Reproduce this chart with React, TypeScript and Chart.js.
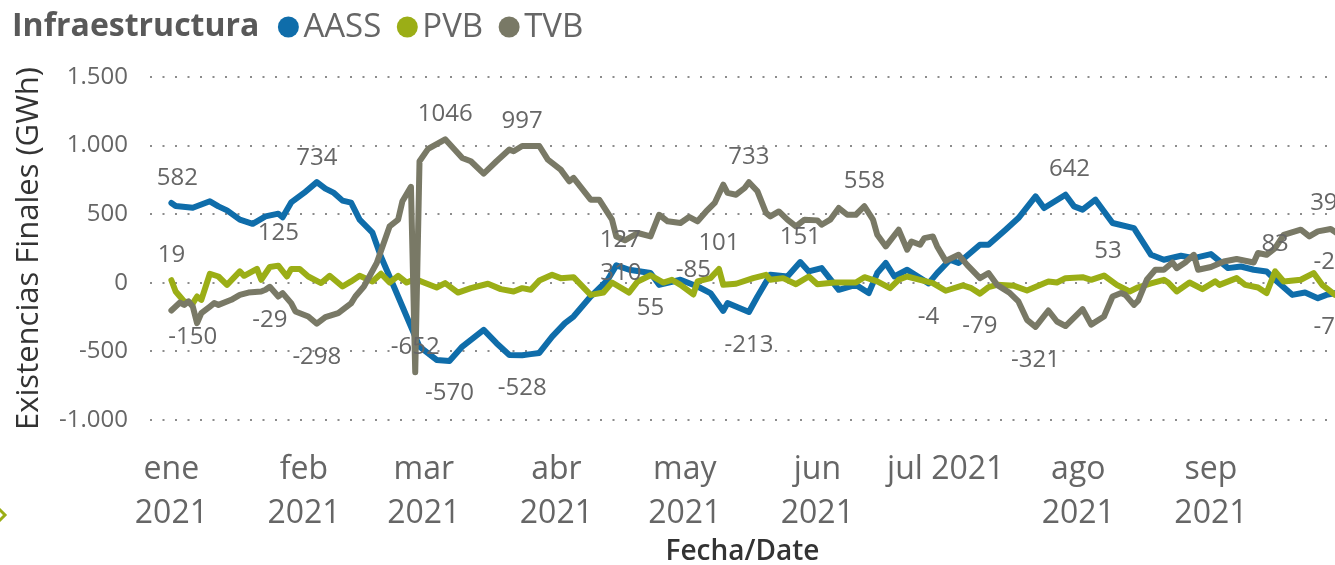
import React, { useEffect, useRef } from 'react';
import { Chart, registerables } from 'chart.js';

Chart.register(...registerables);

const chartTitle = 'Infraestructura';
const seriesNames = ['AASS', 'PVB', 'TVB'];
const seriesColors = ['#0F6DAA', '#9BAE16', '#797966'];

// [day index from 1 Jan 2021, GWh]
const aassSeries: [number, number][] = [
  [0, 582], [1, 560], [5, 547], [9, 594], [11, 557], [13, 528], [16, 460], [19, 430], [22, 484], [25, 504],
  [26, 477], [28, 586], [31, 655], [34, 734], [36, 686], [38, 655], [40, 599], [42, 584], [44, 460], [47, 365],
  [49, 190], [52, -27], [54, -173], [56, -319], [58, -465], [62, -562], [65, -570], [68, -465], [73, -343], [76, -440],
  [79, -526], [82, -528], [84, -520], [86, -511], [89, -392], [92, -294], [94, -246], [98, -100], [102, 22], [104, 127],
  [107, 95], [112, 71], [114, -15], [119, 22], [123, -27], [126, -75], [129, -205], [130, -148], [135, -213], [137, -100],
  [140, 58], [144, 46], [147, 151], [149, 83], [152, 107], [156, -51], [160, -15], [163, -75], [165, 71], [167, 144],
  [169, 46], [172, 95], [177, -4], [179, 71], [182, 168], [184, 144], [189, 277], [191, 277], [195, 387], [198, 472],
  [202, 630], [204, 545], [209, 642], [211, 557], [213, 533], [216, 606], [220, 436], [225, 399], [229, 204], [232, 168],
  [236, 197], [239, 180], [243, 209], [247, 107], [250, 119], [253, 95], [256, 83], [258, 22], [262, -88], [265, -71],
  [268, -112], [270, -88], [272, -75],
];

const pvbSeries: [number, number][] = [
  [0, 19], [1, -63], [3, -136], [5, -150], [6, -100], [7, -124], [9, 66], [11, 46], [13, -15], [16, 83],
  [17, 51], [20, 102], [21, 22], [23, 115], [25, 125], [27, 46], [28, 100], [30, 100], [32, 46], [35, -2],
  [37, 51], [40, -27], [42, 10], [44, 51], [47, 10], [49, 66], [51, 2], [53, 51], [55, 2], [57, 27],
  [59, 2], [62, -34], [64, -2], [67, -71], [70, -39], [74, -7], [77, -46], [80, -63], [82, -39], [84, -51],
  [86, 16], [89, 58], [91, 34], [94, 41], [98, -88], [101, -71], [103, 2], [107, -71], [109, 10], [112, 55],
  [115, 2], [117, 22], [119, -15], [122, -85], [123, 10], [126, 34], [128, 101], [129, -15], [132, -7], [136, 34],
  [139, 58], [140, 22], [143, 34], [146, -10], [149, 46], [151, -10], [155, 2], [160, 2], [162, 41], [165, 10],
  [168, -39], [170, 22], [172, 46], [175, 22], [178, -2], [181, -58], [185, -19], [187, -39], [189, -79], [191, -31],
  [193, -15], [197, -22], [200, -56], [205, 10], [207, 2], [209, 34], [213, 41], [215, 22], [218, 53], [221, -15],
  [224, -63], [226, -33], [229, -5], [232, 22], [233, 2], [235, -63], [238, 2], [241, -46], [244, 10], [245, -15],
  [249, 34], [251, -15], [254, -34], [256, -75], [258, 83], [260, 10], [264, 22], [267, 71], [269, -15], [272, -88],
  [273, -95],
];

const tvbSeries: [number, number][] = [
  [0, -202], [2, -144], [3, -161], [4, -136], [5, -173], [6, -294], [7, -221], [9, -173], [10, -148], [11, -161],
  [14, -124], [16, -88], [18, -71], [21, -63], [22, -51], [23, -29], [25, -100], [26, -75], [28, -148], [29, -209],
  [32, -246], [34, -298], [36, -250], [39, -221], [41, -173], [42, -150], [43, -100], [45, -27], [48, 144], [51, 411],
  [53, 460], [54, 594], [56, 699], [57, -652], [58, 886], [60, 976], [64, 1046], [68, 910], [70, 886], [73, 796],
  [76, 886], [79, 971], [80, 959], [82, 997], [86, 997], [88, 898], [91, 825], [93, 740], [94, 764], [98, 606],
  [100, 606], [103, 460], [104, 338], [106, 310], [109, 363], [112, 338], [114, 496], [116, 448], [119, 436], [121, 480],
  [123, 448], [125, 520], [127, 582], [129, 715], [130, 655], [132, 642], [134, 691], [135, 733], [137, 667], [139, 509],
  [140, 484], [142, 520], [144, 460], [146, 411], [148, 460], [151, 455], [152, 423], [154, 460], [156, 545], [158, 496],
  [160, 496], [162, 558], [164, 460], [165, 350], [167, 265], [170, 387], [172, 241], [173, 301], [175, 277], [176, 326],
  [178, 338], [179, 265], [181, 160], [184, 204], [186, 131], [189, 34], [191, 71], [193, -15], [196, -75], [198, -136],
  [200, -270], [202, -321], [205, -202], [207, -282], [209, -315], [213, -192], [215, -305], [218, -246], [220, -100], [222, -75],
  [223, -88], [225, -161], [226, -130], [228, 22], [230, 95], [232, 95], [234, 148], [235, 107], [237, 148], [239, 204],
  [240, 95], [243, 115], [246, 155], [249, 173], [253, 148], [254, 217], [256, 204], [258, 253], [260, 350], [264, 387],
  [266, 338], [268, 375], [271, 392], [273, 350],
];

const allSeries = [aassSeries, pvbSeries, tvbSeries];

const monthDays = [0, 31, 59, 90, 120, 151, 181, 212, 243];
const monthLabels: (string | string[])[] = [
  ['ene', '2021'], ['feb', '2021'], ['mar', '2021'], ['abr', '2021'], ['may', '2021'],
  ['jun', '2021'], 'jul 2021', ['ago', '2021'], ['sep', '2021'],
];

const yMin = -1000;
const yMax = 1500;
const yStep = 500;
const xMin = -5;
const xMax = 272;

// data labels shown on the chart
const labelSeries = ['AASS', 'PVB', 'PVB', 'PVB', 'AASS', 'TVB', 'TVB', 'TVB', 'TVB', 'TVB', 'AASS', 'AASS', 'AASS', 'TVB', 'PVB', 'PVB', 'PVB', 'TVB', 'AASS', 'AASS', 'TVB', 'AASS', 'PVB', 'AASS', 'TVB', 'PVB', 'PVB', 'TVB', 'PVB', 'AASS'];
const labelDays = [0, 0, 5, 25, 34, 23, 34, 57, 64, 82, 65, 82, 104, 106, 112, 128, 122, 135, 135, 147, 162, 177, 189, 209, 202, 218, 258, 271, 272, 272];
const labelTexts = ['582', '19', '-150', '125', '734', '-29', '-298', '-652', '1046', '997', '-570', '-528', '127', '310', '55', '101', '-85', '733', '-213', '151', '558', '-4', '-79', '642', '-321', '53', '83', '392', '-25', '-75'];
// pixel offsets of each label from its point (style only)
const labelOffsets: [number, number][] = [
  [6, -25], [0, -25], [0, 34], [0, -32], [0, -24], [0, 33], [0, 33], [0, -25], [0, -25], [0, -25],
  [0, 32], [0, 33], [4, -25], [-4, 33], [0, 33], [0, -26], [0, -24], [0, -25], [0, 33], [0, -25],
  [0, -25], [0, 34], [0, 33], [4, -26], [0, 33], [4, -24], [0, -27], [0, -26], [-4, -33], [-4, 34],
];

const FONT = '"Open Sans", "Noto Sans", sans-serif';

const fmt = (v: number) => {
  const s = Math.abs(v).toString().replace(/\B(?=(\d{3})+(?!\d))/g, '.');
  return v < 0 ? '-' + s : s;
};

const headerPlugin = {
  id: 'headerPlugin',
  afterDraw(chart: any) {
    const ctx = chart.ctx as CanvasRenderingContext2D;
    ctx.save();
    ctx.textBaseline = 'middle';
    ctx.textAlign = 'left';
    const y = 27;
    let x = 12;
    ctx.font = `bold 32px ${FONT}`;
    ctx.fillStyle = '#595959';
    ctx.fillText(chartTitle, x, y);
    x += ctx.measureText(chartTitle).width + 29;
    ctx.font = `33px ${FONT}`;
    chart.data.datasets.forEach((ds: any) => {
      ctx.fillStyle = ds.borderColor;
      ctx.beginPath();
      ctx.arc(x, y, 10.5, 0, Math.PI * 2);
      ctx.fill();
      ctx.fillStyle = '#666666';
      ctx.fillText(ds.label, x + 15, y + 1);
      x += 15 + ctx.measureText(ds.label).width + 26;
    });
    // small slicer chevron at left edge
    ctx.strokeStyle = seriesColors[1];
    ctx.lineWidth = 3;
    ctx.beginPath();
    ctx.moveTo(-1, 509);
    ctx.lineTo(5, 515);
    ctx.lineTo(-1, 521);
    ctx.stroke();
    ctx.restore();
  },
};

const labelPlugin = {
  id: 'labelPlugin',
  afterDatasetsDraw(chart: any) {
    const ctx = chart.ctx as CanvasRenderingContext2D;
    const xs = chart.scales.x;
    const ys = chart.scales.y;
    ctx.save();
    ctx.font = `24px ${FONT}`;
    ctx.fillStyle = '#666666';
    ctx.textAlign = 'center';
    ctx.textBaseline = 'middle';
    labelSeries.forEach((name, i) => {
      const series = allSeries[seriesNames.indexOf(name)];
      const pt = series.find((p) => p[0] === labelDays[i]);
      if (!pt) return;
      const px = xs.getPixelForValue(pt[0]) + labelOffsets[i][0];
      const py = ys.getPixelForValue(pt[1]) + labelOffsets[i][1];
      ctx.fillText(labelTexts[i], px, py);
    });
    ctx.restore();
  },
};

export default function App() {
  const ref = useRef<HTMLCanvasElement>(null);

  useEffect(() => {
    if (!ref.current) return;
    const chart = new Chart(ref.current, {
      type: 'line',
      data: {
        datasets: allSeries.map((pts, i) => ({
          label: seriesNames[i],
          data: pts.map(([x, y]) => ({ x, y })),
          borderColor: seriesColors[i],
          backgroundColor: seriesColors[i],
          borderWidth: 6,
          pointRadius: 0,
          tension: 0,
          fill: false,
          borderJoinStyle: 'round',
          borderCapStyle: 'round',
          order: 3 - i,
        })),
      },
      options: {
        responsive: false,
        animation: false,
        layout: { padding: { top: 77, left: 0, right: 0, bottom: 0 } },
        plugins: {
          legend: { display: false },
          tooltip: { enabled: false },
        },
        scales: {
          x: {
            type: 'linear',
            min: xMin,
            max: xMax,
            afterBuildTicks: (axis: any) => {
              axis.ticks = monthDays.map((v) => ({ value: v }));
            },
            afterFit: (scale: any) => {
              scale.height = 145;
            },
            grid: { display: false, drawTicks: false },
            border: { display: false },
            ticks: {
              autoSkip: false,
              maxRotation: 0,
              minRotation: 0,
              padding: 27,
              color: '#666666',
              font: { family: FONT, size: 32, lineHeight: 1.4 },
              callback: (v: any) => {
                const idx = monthDays.indexOf(Number(v));
                return idx >= 0 ? monthLabels[idx] : '';
              },
            },
            title: {
              display: true,
              text: 'Fecha/Date',
              color: '#333333',
              font: { family: FONT, size: 28, weight: '600' },
              padding: { top: 0, bottom: -4 },
            },
          },
          y: {
            min: yMin,
            max: yMax,
            afterFit: (scale: any) => {
              scale.width = 150;
            },
            ticks: {
              stepSize: yStep,
              padding: 22,
              color: '#666666',
              font: { family: FONT, size: 24 },
              callback: (v: any) => fmt(Number(v)),
            },
            grid: { color: '#8C8C8C', lineWidth: 2, drawTicks: false },
            border: { display: false, dash: [2, 10.5] },
            title: {
              display: true,
              text: 'Existencias Finales (GWh)',
              color: '#333333',
              font: { family: FONT, size: 31 },
              padding: { top: 11, bottom: 0 },
            },
          },
        },
      } as any,
      plugins: [headerPlugin, labelPlugin],
    });
    return () => chart.destroy();
  }, []);

  return (
    <div style={{ position: 'absolute', left: 0, top: 0, width: 1335, height: 565, background: '#ffffff' }}>
      <canvas ref={ref} width={1335} height={565} style={{ width: '1335px', height: '565px', display: 'block' }} />
    </div>
  );
}
